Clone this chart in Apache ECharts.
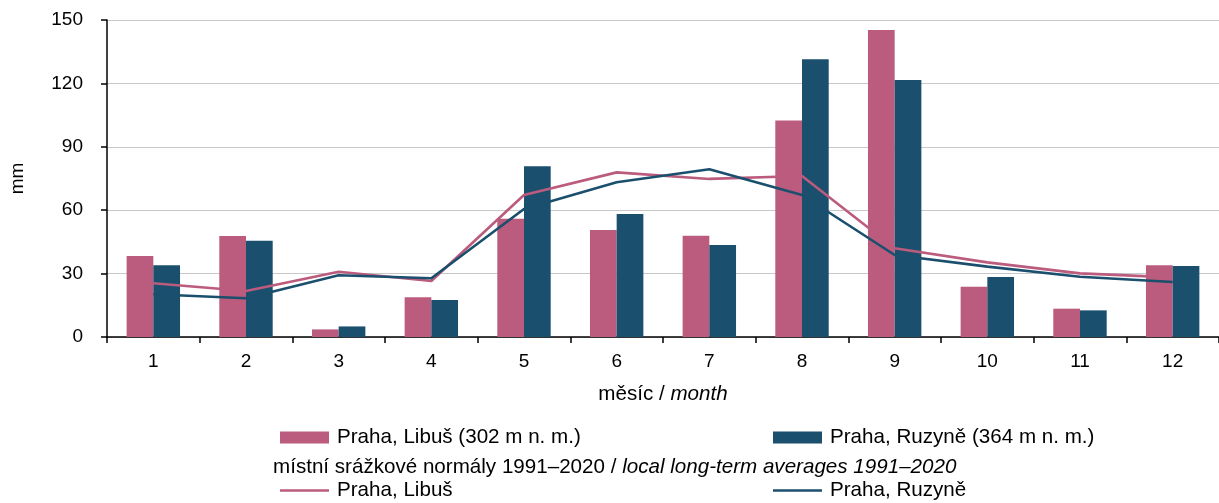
<!DOCTYPE html>
<html>
<head>
<meta charset="utf-8">
<script src="https://cdn.jsdelivr.net/npm/echarts@6/dist/echarts.min.js"></script>
<style>
html,body{margin:0;padding:0;background:#fff;}
#chart{width:1219px;height:503px;}
</style>
</head>
<body>
<div id="chart"></div>
<script>
const months = ['1','2','3','4','5','6','7','8','9','10','11','12'];
const yTicks = [0, 30, 60, 90, 120, 150];
const libusMonthly = [38.3, 47.8, 3.6, 18.8, 56.0, 50.6, 47.9, 102.4, 145.3, 23.8, 13.4, 33.9];
const ruzyneMonthly = [34.0, 45.6, 5.0, 17.5, 80.8, 58.2, 43.5, 131.4, 121.6, 28.4, 12.6, 33.6];
const libusNormal = [25.4, 21.8, 30.9, 26.5, 67.2, 77.9, 74.8, 76.2, 42.0, 35.3, 30.1, 28.2];
const ruzyneNormal = [20.2, 18.3, 29.2, 27.8, 60.6, 73.2, 79.4, 67.2, 38.8, 33.3, 28.5, 26.0];

const nameBarL = 'Praha, Libuš (302 m n. m.)';
const nameBarR = 'Praha, Ruzyně (364 m n. m.)';
const nameLineL = 'Praha, Libuš';
const nameLineR = 'Praha, Ruzyně';

const PINK = '#bb5b7d';
const BLUE = '#1a4f6e';
const FONT = 'Liberation Sans, Arial, sans-serif';
const FS = 19;
const FL = 20.6;

const chart = echarts.init(document.getElementById('chart'));
const legendText = {fontFamily: FONT, fontSize: FL, color: '#000', padding: [0, 0, 0, 3]};
function barLegend(name, left) {
  return {data: [{name: name, icon: 'rect'}], left: left, top: 427, itemWidth: 49, itemHeight: 12,
    itemGap: 0, textStyle: legendText, selectedMode: false, padding: 0};
}
function lineLegend(name, left) {
  return {data: [{name: name, icon: 'rect'}], left: left, top: 480, itemWidth: 49, itemHeight: 2.6,
    itemGap: 0, textStyle: legendText, selectedMode: false, padding: 0};
}
chart.setOption({
  animation: false,
  textStyle: {fontFamily: FONT},
  grid: {left: 107, right: -8, top: 20, bottom: 166, containLabel: false},
  legend: [
    barLegend(nameBarL, 280), barLegend(nameBarR, 773),
    lineLegend(nameLineL, 280), lineLegend(nameLineR, 773)
  ],
  graphic: [{
    type: 'text', left: 273, top: 457,
    style: {
      text: '{a|místní srážkové normály 1991–2020 / }{b|local long-term averages 1991–2020}',
      rich: {
        a: {fontFamily: FONT, fontSize: FL, fill: '#000'},
        b: {fontFamily: FONT, fontSize: FL, fontStyle: 'italic', fill: '#000'}
      }
    }
  }],
  xAxis: {
    type: 'category', data: months,
    name: '{a|měsíc / }{b|month}', nameLocation: 'middle', nameGap: 47,
    nameTextStyle: {rich: {
      a: {fontFamily: FONT, fontSize: FL, color: '#000'},
      b: {fontFamily: FONT, fontSize: FL, color: '#000', fontStyle: 'italic'}
    }},
    axisLine: {lineStyle: {color: '#000', width: 1.5}},
    axisTick: {show: true, length: 6, lineStyle: {color: '#000', width: 1.5}},
    axisLabel: {fontFamily: FONT, fontSize: FS, color: '#000', margin: 15},
    splitLine: {show: false}
  },
  yAxis: {
    type: 'value', min: 0, max: 150, interval: 30,
    name: 'mm', nameLocation: 'middle', nameGap: 80, nameRotate: 90,
    nameTextStyle: {fontFamily: FONT, fontSize: FS, color: '#000'},
    axisLine: {show: true, lineStyle: {color: '#000', width: 1.5}},
    axisTick: {show: true, length: 6, lineStyle: {color: '#000', width: 1.5}},
    axisLabel: {fontFamily: FONT, fontSize: FS, color: '#000', margin: 24,
      formatter: v => yTicks.includes(v) ? String(v) : ''},
    splitLine: {lineStyle: {color: '#c8c8c8', width: 1.2}}
  },
  series: [
    {name: nameBarL, type: 'bar', data: libusMonthly, barWidth: 26.7, barGap: '0%',
      itemStyle: {color: PINK}, z: 2},
    {name: nameBarR, type: 'bar', data: ruzyneMonthly, barWidth: 26.7, barGap: '0%',
      itemStyle: {color: BLUE}, z: 2},
    {name: nameLineL, type: 'line', data: libusNormal, symbol: 'none',
      lineStyle: {color: PINK, width: 2.6}, itemStyle: {color: PINK}, z: 3},
    {name: nameLineR, type: 'line', data: ruzyneNormal, symbol: 'none',
      lineStyle: {color: BLUE, width: 2.6}, itemStyle: {color: BLUE}, z: 3}
  ]
});
</script>
</body>
</html>
